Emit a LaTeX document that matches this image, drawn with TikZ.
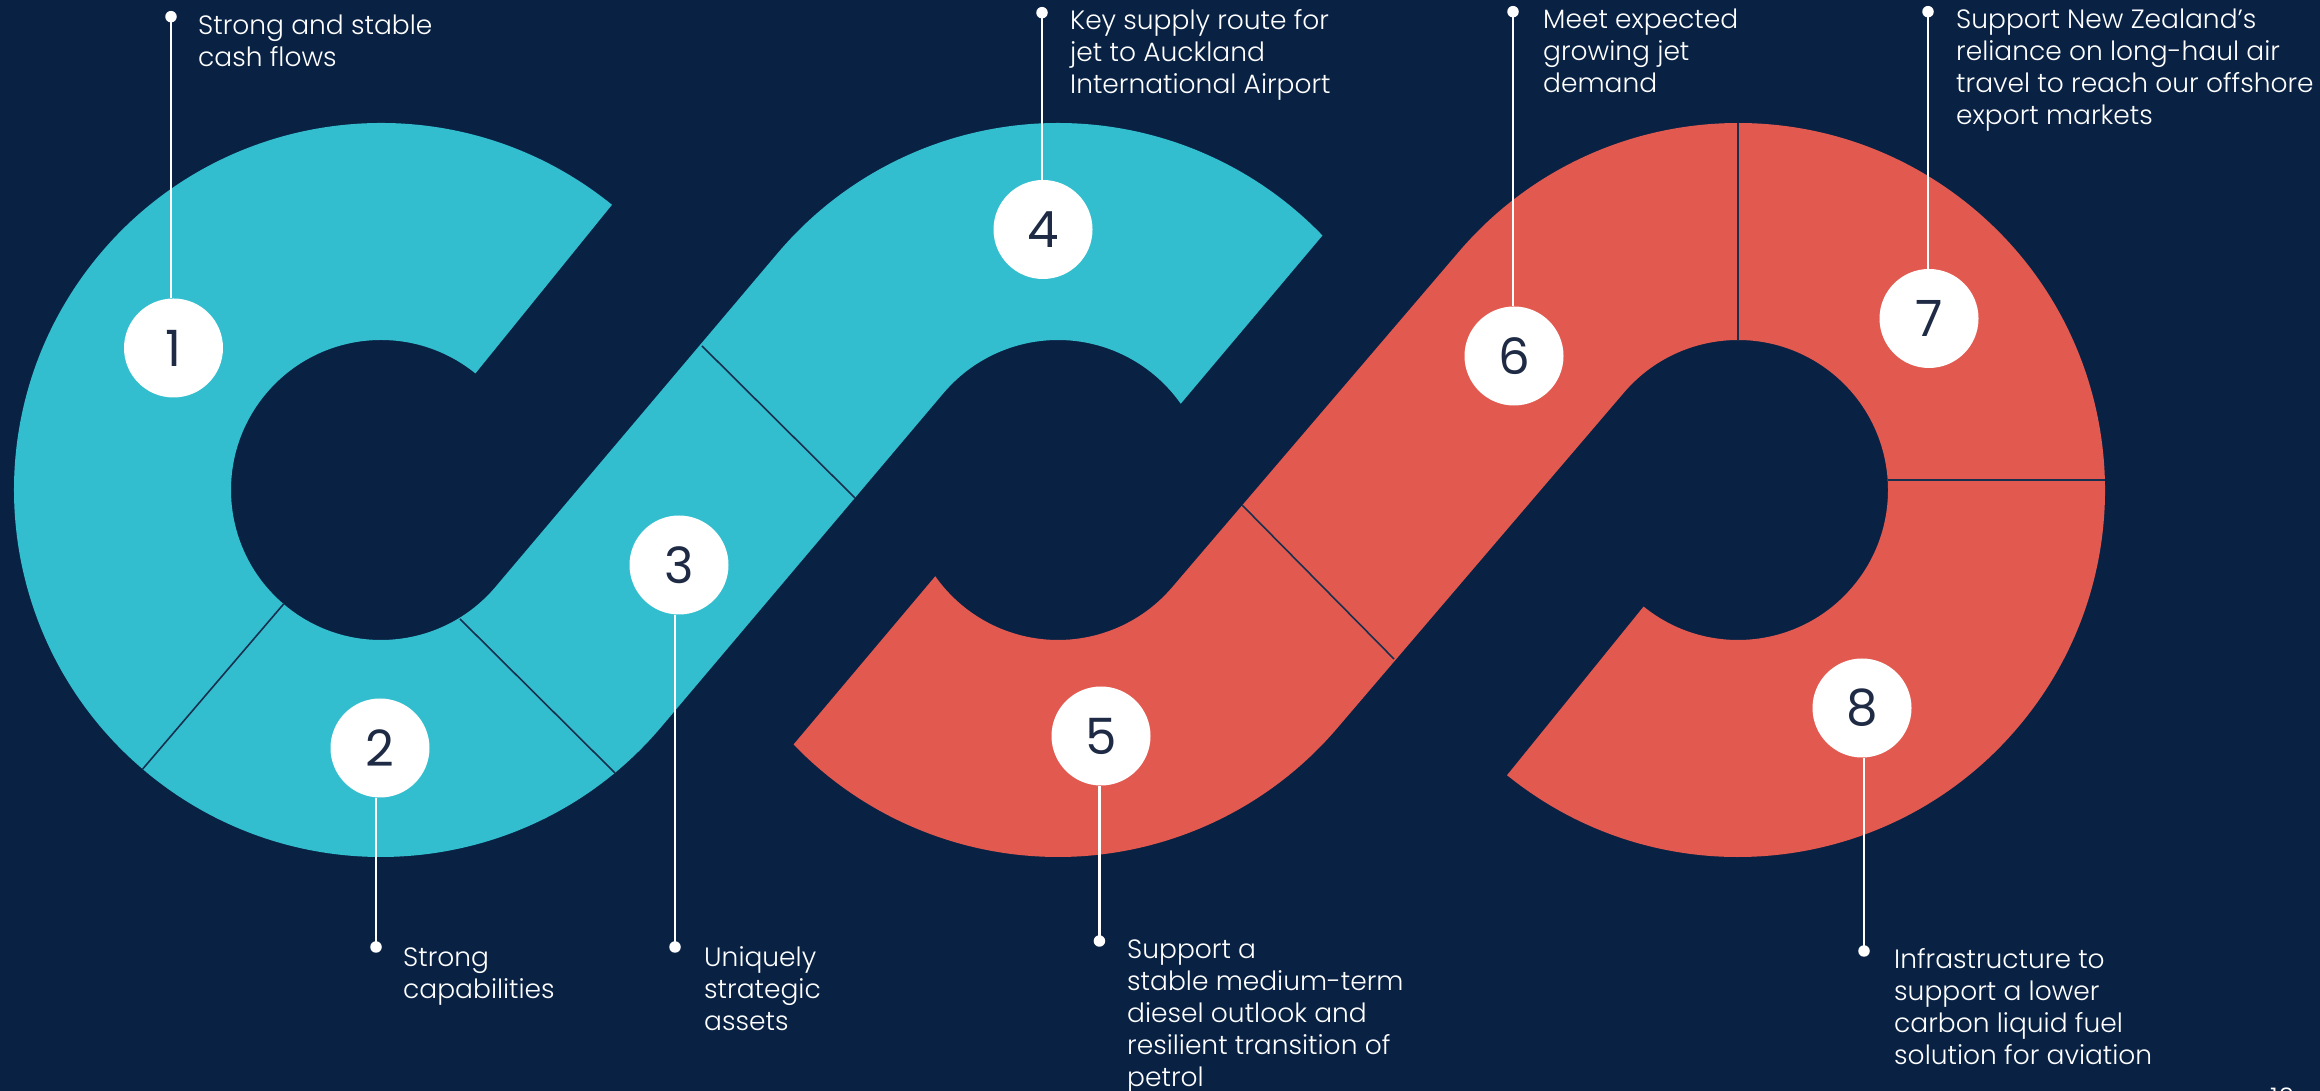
\documentclass[tikz,border=0pt]{standalone}
\usepackage{fontspec}
\setmainfont{Poppins}[UprightFont=* Light]
\newfontfamily\numfont{Poppins}
\usetikzlibrary{calc}
\definecolor{bgnavy}{HTML}{092244}
\definecolor{tealband}{HTML}{32BECE}
\definecolor{redband}{HTML}{E25A4F}
\definecolor{numnavy}{HTML}{1F2B45}
\definecolor{divline}{HTML}{17304F}
\newcommand\mylines[1]{\begin{tabular}[t]{@{}l@{}}#1\end{tabular}}
\begin{document}
\begin{tikzpicture}[x=1pt,y=1pt,
  numcirc/.style={circle, fill=white, minimum size=99pt, inner sep=0pt, text=numnavy, font=\numfont\fontsize{50}{50}\selectfont},
  leader/.style={draw=white, line width=2.2pt},
  ldot/.style={circle, fill=white, minimum size=11.5pt, inner sep=0pt},
  lbltext/.style={text=white, inner sep=0pt, anchor=base west, font=\fontsize{26.5}{31.8}\selectfont},
  divider/.style={draw=divline, line width=1.6pt}]
\fill[bgnavy] (0,0) rectangle (2320,1091);
\useasboundingbox (0,0) rectangle (2320,1091);
\coordinate (C1) at (381,601);
\coordinate (C2) at (1058,601);
\coordinate (C4) at (1738,601);
% teal band
\fill[tealband] ($(C1)+(51:367)$) arc[start angle=51, end angle=319.79, radius=367]
  -- ($(C2)+(139.79:150)$) arc[start angle=139.79, end angle=35.1, radius=150]
  -- ($(C2)+(43.9:367)$) arc[start angle=43.9, end angle=139.79, radius=367]
  -- ($(C1)+(-40.21:150)$) arc[start angle=-40.21, end angle=-309, radius=150] -- cycle;
% red band
\fill[redband] ($(C2)+(-136.1:367)$) arc[start angle=-136.1, end angle=-40.51, radius=367]
  -- ($(C4)+(139.49:150)$) arc[start angle=139.49, end angle=-129, radius=150]
  -- ($(C4)+(-129:367)$) arc[start angle=-129, end angle=139.49, radius=367]
  -- ($(C2)+(-40.51:150)$) arc[start angle=-40.51, end angle=-144.9, radius=150] -- cycle;
% dividers
\draw[divider] ($(C1)+(229.5:150)$) -- ($(C1)+(229.5:367)$);
\draw[divider] (460,472) -- (615,318);
\draw[divider] (702,745) -- (855,593);
\draw[divider] (1242,586) -- (1394,432);
\draw[divider] ($(C4)+(90:150)$) -- ($(C4)+(90:367)$);
\draw[divider] (1888,611) -- (2105,611);
% number circles
\node[numcirc] (n1) at (173.5,743) {1};
\node[numcirc] (n2) at (380,343) {2};
\node[numcirc] (n3) at (679,526) {3};
\node[numcirc] (n4) at (1043,861.5) {4};
\node[numcirc] (n5) at (1101,355) {5};
\node[numcirc] (n6) at (1514,735) {6};
\node[numcirc] (n7) at (1929,772.5) {7};
\node[numcirc] (n8) at (1862,383) {8};
% dots
\node[ldot] (p1) at (171,1074.3) {};
\node[ldot] (p4) at (1042,1078.3) {};
\node[ldot] (p6) at (1513,1079.3) {};
\node[ldot] (p7) at (1928,1079.3) {};
\node[ldot] (p2) at (376,144) {};
\node[ldot] (p3) at (675,144) {};
\node[ldot] (p5) at (1099.4,150) {};
\node[ldot] (p8) at (1864,140) {};
% leaders
\draw[leader] (p1.center) -- (p1 |- n1.north);
\draw[leader] (p4.center) -- (p4 |- n4.north);
\draw[leader] (p6.center) -- (p6 |- n6.north);
\draw[leader] (p7.center) -- (p7 |- n7.north);
\draw[leader] (p2.center) -- (p2 |- n2.south);
\draw[leader] (p3.center) -- (p3 |- n3.south);
\draw[leader] (p5.center) -- (p5 |- n5.south);
\draw[leader] (p8.center) -- (p8 |- n8.south);
% labels
\node[lbltext] (t1) at (198,1056.5) {\mylines{Strong and stable\\cash flows}};
\node[lbltext] (t4) at (1070,1061) {\mylines{Key supply route for\\jet to Auckland\\International Airport}};
\node[lbltext] (t6) at (1543,1062) {\mylines{Meet expected\\growing jet\\demand}};
\node[lbltext] (t7) at (1956,1062) {\mylines{Support New Zealand’s\\reliance on long-haul air\\travel to reach our offshore\\export markets}};
\node[lbltext] (t2) at (403,124.5) {\mylines{Strong\\capabilities}};
\node[lbltext] (t3) at (704,124.5) {\mylines{Uniquely\\strategic\\assets}};
\node[lbltext] (t5) at (1127,132) {\mylines{Support a\\stable medium-term\\diesel outlook and\\resilient transition of\\petrol}};
\node[lbltext] (t8) at (1894,122) {\mylines{Infrastructure to\\support a lower\\carbon liquid fuel\\solution for aviation}};
\node[text=white, inner sep=0pt, anchor=north west, font=\fontsize{27}{27}\selectfont] (pg) at (2270,3) {10};
\end{tikzpicture}
\end{document}
